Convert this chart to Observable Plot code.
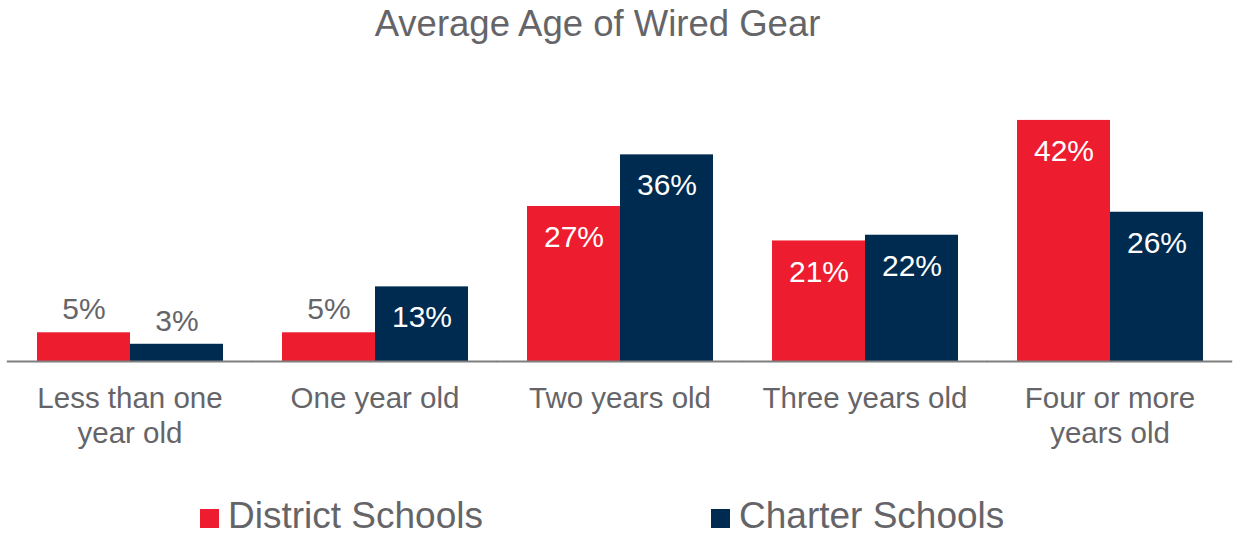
<!DOCTYPE html>
<html><head><meta charset="utf-8">
<script src="https://cdn.jsdelivr.net/npm/d3@7"></script>
<script src="https://cdn.jsdelivr.net/npm/@observablehq/plot@0.6"></script>
<style>
body{margin:0;background:#fff;font-family:"Liberation Sans",Arial,sans-serif;color:#656569;}
#wrap{width:1233px;}
#title{height:54px;padding-top:6px;width:1195px;text-align:center;font-size:36.5px;line-height:1;color:#656569;}
#legend{position:relative;height:76px;font-size:37px;line-height:1;}
#legend .item{position:absolute;top:36.7px;white-space:nowrap;}
#legend .sw{display:inline-block;width:19px;height:19px;margin-right:9px;vertical-align:baseline;}
svg{display:block;}
</style>
</head><body>
<div id="wrap">
<div id="title">Average Age of Wired Gear</div>
<div id="chart"></div>
<div id="legend"></div>
</div>
<script>
const categories = ["Less than one\nyear old", "One year old", "Two years old", "Three years old", "Four or more\nyears old"];
const series = ["District Schools", "Charter Schools"];
const district = [5, 5, 27, 21, 42];
const charter = [3, 13, 36, 22, 26];
const colors = ["#ED1C2E", "#002B50"];
const textGray = "#656569";

const data = categories.flatMap((c, i) => [
  {category: c, series: series[0], value: district[i]},
  {category: c, series: series[1], value: charter[i]}
]);

const chart = Plot.plot({
  width: 1233, height: 400,
  marginLeft: 6, marginRight: 0, marginTop: 14, marginBottom: 99,
  style: {fontFamily: '"Liberation Sans", Arial, sans-serif', color: textGray, background: "transparent"},
  fx: {domain: categories, paddingInner: 0.238, paddingOuter: 0.119, label: null},
  x: {domain: series, axis: null, padding: 0},
  y: {domain: [0, 50], axis: null},
  color: {domain: series, range: colors},
  marks: [
    Plot.barY(data, {fx: "category", x: "series", y: "value", fill: "series"}),
    Plot.ruleY([0], {stroke: "#7f7f7f", strokeWidth: 2, insetLeft: -29.2, insetRight: -29.2}),
    Plot.text(data.filter(d => d.value >= 10), {fx: "category", x: "series", y: "value", text: d => d.value + "%", fill: "white", fontSize: 30, lineAnchor: "middle", dy: 31}),
    Plot.text(data.filter(d => d.value < 10), {fx: "category", x: "series", y: "value", text: d => d.value + "%", fill: textGray, fontSize: 30, lineAnchor: "middle", dy: -23}),
    Plot.axisFx({anchor: "bottom", tickSize: 0, tickPadding: 21, fontSize: 29.5, lineHeight: 1.2, label: null})
  ]
});
document.getElementById("chart").appendChild(chart);

const legend = document.getElementById("legend");
const lefts = [200, 711];
series.forEach((s, i) => {
  const it = document.createElement("div");
  it.className = "item";
  it.style.left = lefts[i] + "px";
  const sw = document.createElement("span");
  sw.className = "sw";
  sw.style.background = colors[i];
  it.appendChild(sw);
  it.appendChild(document.createTextNode(s));
  legend.appendChild(it);
});
</script>
</body></html>
